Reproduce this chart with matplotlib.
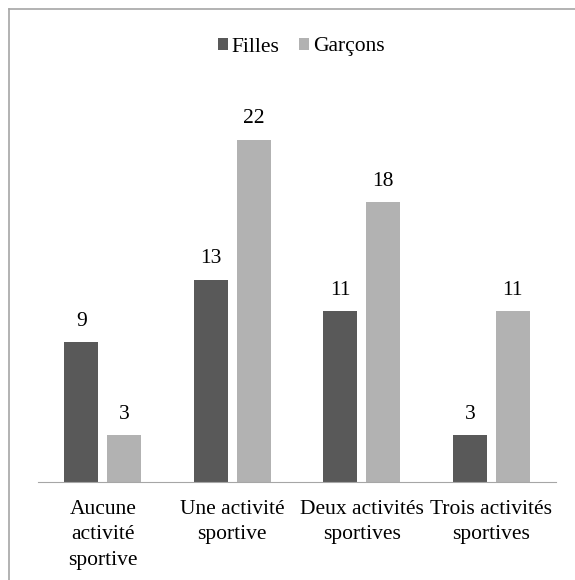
import matplotlib.pyplot as plt
from matplotlib.lines import Line2D
import numpy as np

plt.rcParams['font.family'] = ['Liberation Serif', 'DejaVu Serif']

categories = ['Aucune\nactivité\nsportive', 'Une activité\nsportive',
              'Deux activités\nsportives', 'Trois activités\nsportives']
filles = [9, 13, 11, 3]
garcons = [3, 22, 18, 11]

dark = '#595959'
light = '#b2b2b2'

W, H = 575, 580
fig = plt.figure(figsize=(W / 100, H / 100), dpi=100)
ax = fig.add_axes([38 / W, 98 / H, 518 / W, 389 / H])

x = np.arange(len(categories))
w = 0.263
off = 0.166
b1 = ax.bar(x - off, filles, w, color=dark, label='Filles')
b2 = ax.bar(x + off, garcons, w, color=light, label='Garçons')

for bars in (b1, b2):
    for b in bars:
        ax.text(b.get_x() + b.get_width() / 2, b.get_height() + 1.05,
                str(int(b.get_height())), ha='center', va='baseline', fontsize=15.5)

ax.set_xlim(-0.5, 3.5)
ax.set_ylim(0, 25)
ax.set_xticks(x)
ax.set_xticklabels(categories, fontsize=15.5, linespacing=1.45)
ax.tick_params(axis='x', length=0, pad=13)
ax.set_yticks([])
for s in ['top', 'left', 'right']:
    ax.spines[s].set_visible(False)
ax.spines['bottom'].set_color('#a6a6a6')

fig.legend(loc='center', bbox_to_anchor=(301 / W, 1 - 47 / H), ncol=2, frameon=False,
           fontsize=15.5, handlelength=0.47, handleheight=0.47, handletextpad=0.15,
           columnspacing=0.95)

# border (top and left edges only, the rest is cropped in the reference)
fig.add_artist(Line2D([8.5 / W, 1], [1 - 8.5 / H, 1 - 8.5 / H], transform=fig.transFigure,
                      color='#a6a6a6', linewidth=1.2))
fig.add_artist(Line2D([8.5 / W, 8.5 / W], [0, 1 - 8.5 / H], transform=fig.transFigure,
                      color='#a6a6a6', linewidth=1.2))

fig.savefig('out.png', dpi=100)
